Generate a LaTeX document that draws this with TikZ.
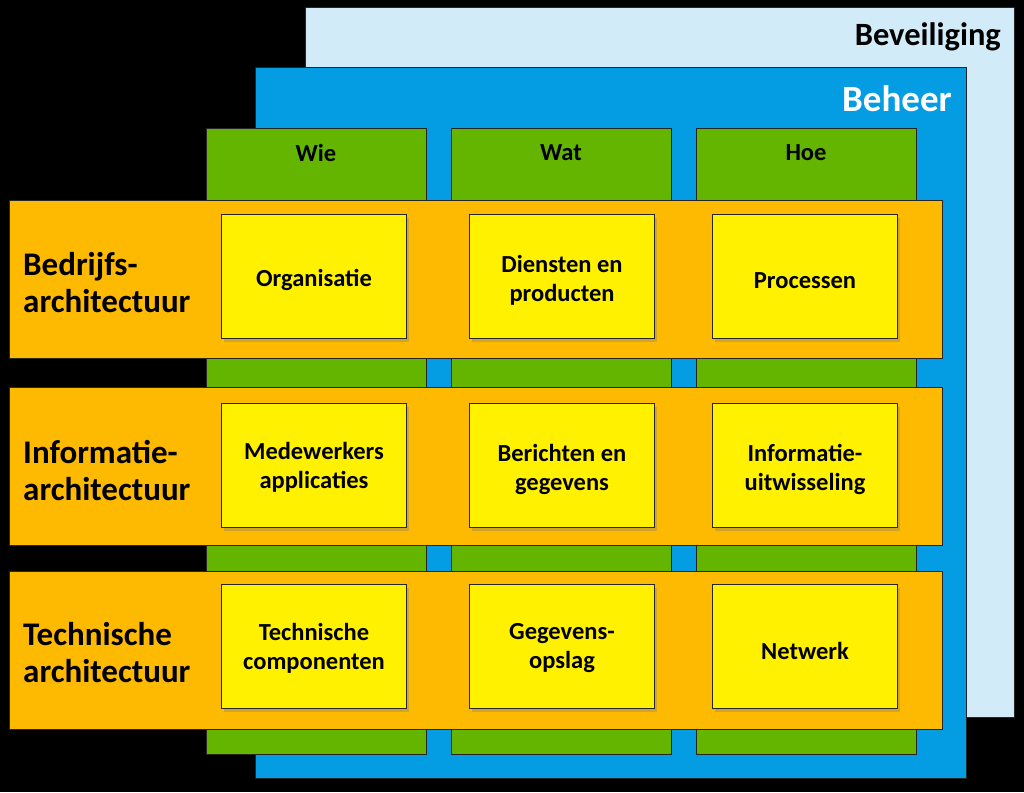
\documentclass[tikz,border=0pt]{standalone}
\usepackage{fontspec}
\setmainfont{Carlito}
\usetikzlibrary{shadows}
\definecolor{cLight}{HTML}{D2EBF9}
\definecolor{cBlue}{HTML}{049DE3}
\definecolor{cGreen}{HTML}{64B500}
\definecolor{cOrange}{HTML}{FDBA00}
\definecolor{cYellow}{HTML}{FFF100}
\begin{document}
\begin{tikzpicture}[x=1pt,y=-1pt,
  panel/.style={draw=black!85,line width=1pt,inner sep=0pt,anchor=north west},
  colbox/.style={panel,fill=cGreen,minimum width=220pt,minimum height=626pt},
  rowbox/.style={panel,fill=cOrange,minimum width=933pt,minimum height=158pt},
  cell/.style={panel,fill=cYellow,minimum width=185pt,minimum height=124pt,
    drop shadow={shadow xshift=2pt,shadow yshift=-3pt,opacity=0.35}},
  celltext/.style={inner sep=0pt,align=center,font=\fontsize{24.5}{29}\selectfont\bfseries},
  hdr/.style={inner sep=0pt,font=\fontsize{24.5}{29}\selectfont\bfseries},
  rowlabel/.style={inner sep=0pt,anchor=west,align=left,font=\fontsize{33}{37}\selectfont\bfseries}]
\fill[black] (0,0) rectangle (1024,792);
\useasboundingbox (0,0) rectangle (1024,792);
% layers
\node[panel,fill=cLight,minimum width=709pt,minimum height=710pt] (bev) at (305,7) {};
\node[inner sep=0pt,anchor=east,font=\fontsize{32.5}{38}\selectfont\bfseries] (tbev) at (1001,37) {Beveiliging};
\node[panel,fill=cBlue,minimum width=711pt,minimum height=711pt] (beh) at (255,67) {};
\node[inner sep=0pt,anchor=east,text=white,font=\fontsize{37}{42}\selectfont\bfseries] (tbeh) at (952,99) {Beheer};
% columns
\node[colbox] (c1) at (206,128) {};
\node[colbox] (c2) at (451,128) {};
\node[colbox] (c3) at (696,128) {};
\node[hdr] (h1) at (316,153) {Wie};
\node[hdr] (h2) at (561,153) {Wat};
\node[hdr] (h3) at (806,153) {Hoe};
% rows
\node[rowbox] (r1) at (9,200) {};
\node[rowbox] (r2) at (9,387) {};
\node[rowbox] (r3) at (9,571) {};
\node[rowlabel] (l1) at (23,283) {Bedrijfs-\\architectuur};
\node[rowlabel] (l2) at (23,471) {Informatie-\\architectuur};
\node[rowlabel] (l3) at (23,653) {Technische\\architectuur};
% cells
\node[cell] (y11) at (221,214) {};
\node[cell] (y12) at (469,214) {};
\node[cell] (y13) at (712,214) {};
\node[cell] (y21) at (221,403) {};
\node[cell] (y22) at (469,403) {};
\node[cell] (y23) at (712,403) {};
\node[cell] (y31) at (221,584) {};
\node[cell] (y32) at (469,584) {};
\node[cell] (y33) at (712,584) {};
\node[celltext] at ([yshift=-3pt]y11.center) {Organisatie};
\node[celltext] at ([yshift=-4pt]y12.center) {Diensten en\\producten};
\node[celltext] at ([yshift=-4pt]y13.center) {Processen};
\node[celltext] at ([yshift=-2pt]y21.center) {Medewerkers\\applicaties};
\node[celltext] at ([yshift=-4pt]y22.center) {Berichten en\\gegevens};
\node[celltext] at ([yshift=-4pt]y23.center) {Informatie-\\uitwisseling};
\node[celltext] at ([yshift=-2pt]y31.center) {Technische\\componenten};
\node[celltext] at ([yshift=-2pt]y32.center) {Gegevens-\\opslag};
\node[celltext] at ([yshift=-4pt]y33.center) {Netwerk};
\end{tikzpicture}
\end{document}
